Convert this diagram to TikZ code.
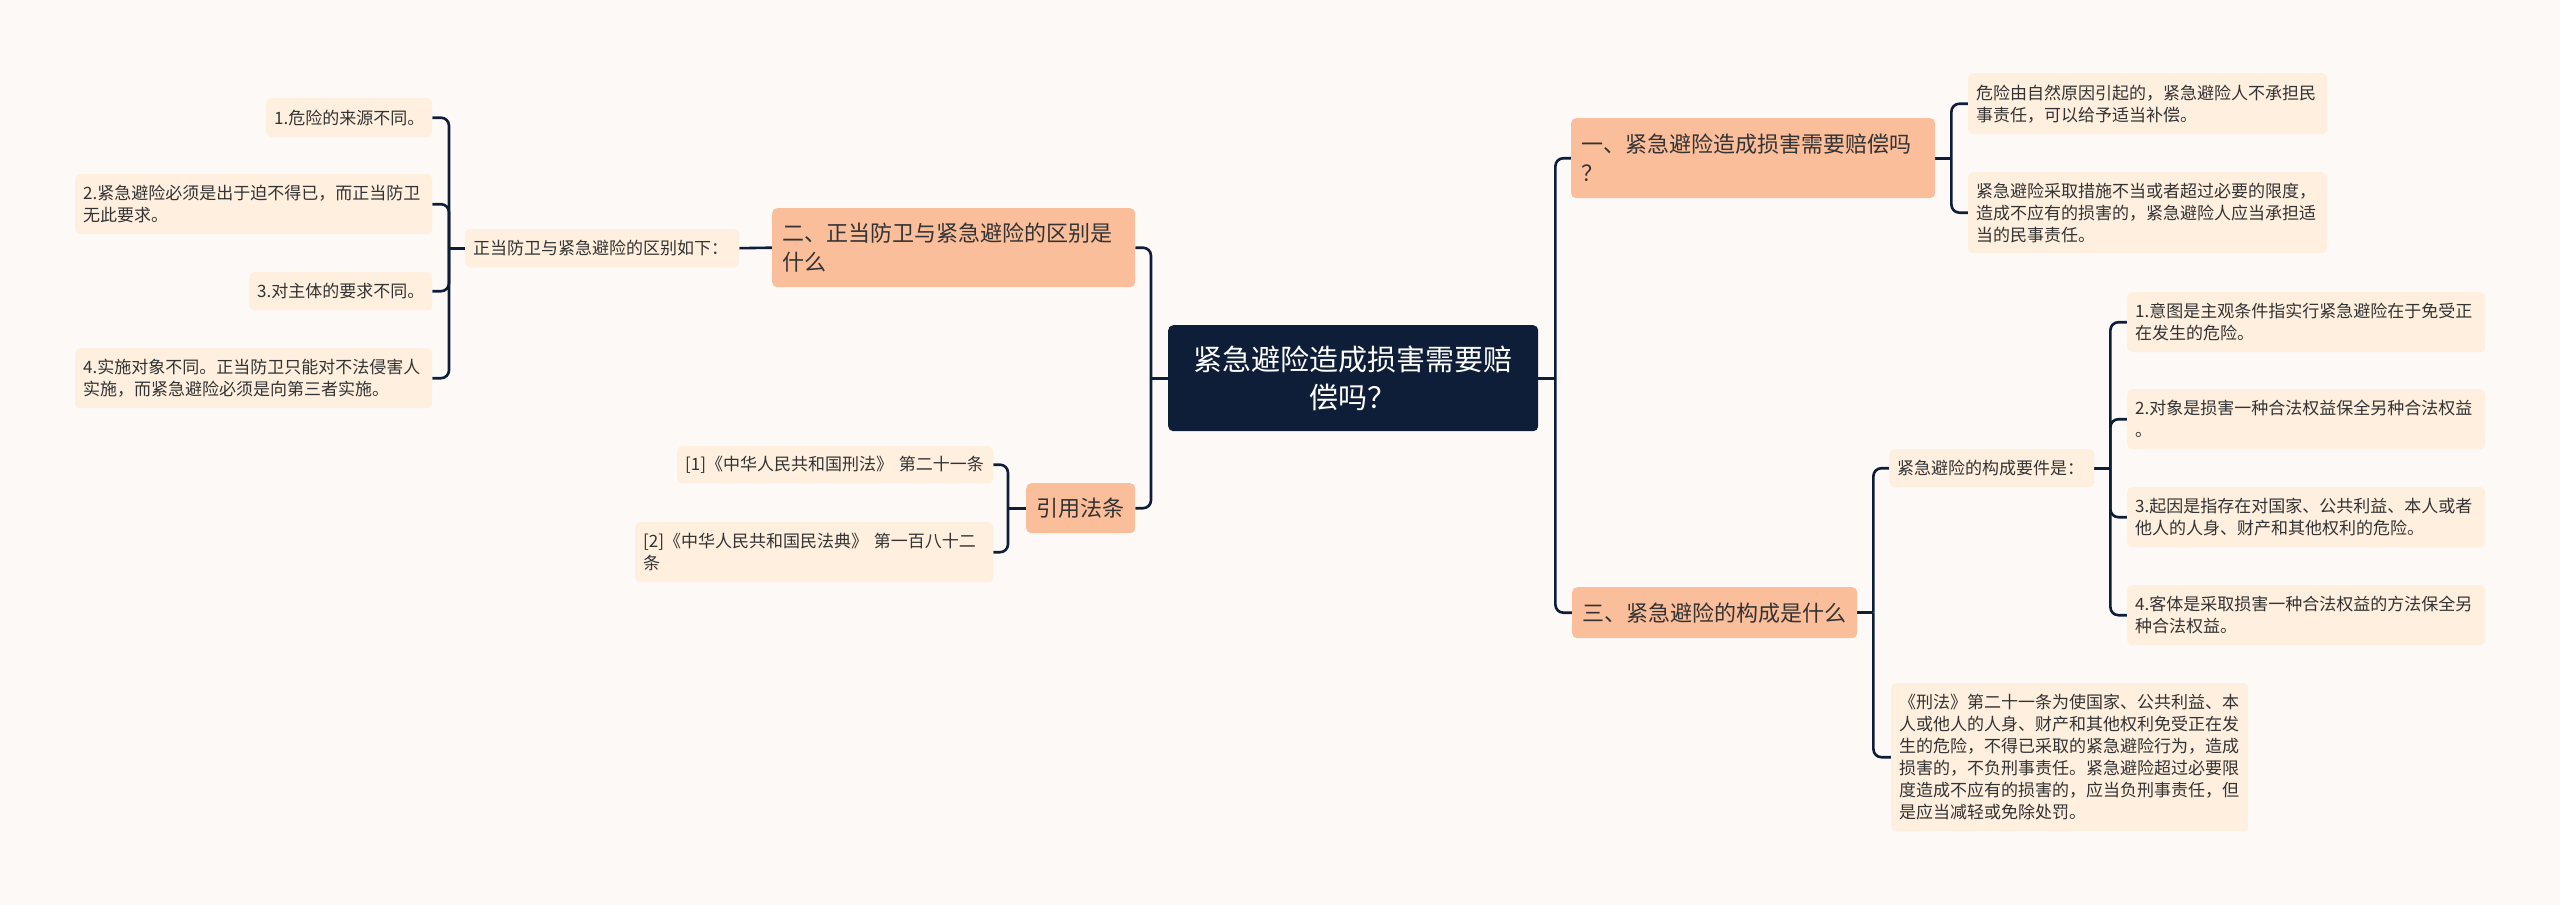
\documentclass[tikz,border=0pt]{standalone}
\usepackage{fontspec}
\setmainfont{Noto Sans CJK SC}
\usetikzlibrary{backgrounds}
\definecolor{navy}{HTML}{0E1E38}
\definecolor{salmon}{HTML}{FBBE9B}
\definecolor{cream}{HTML}{FEEFDF}
\definecolor{paper}{HTML}{FDF9F7}
\definecolor{ink}{HTML}{333333}
\begin{document}
\begin{tikzpicture}[x=1pt,y=-1pt,line cap=round,line join=round,
  box/.style={anchor=north west,rounded corners=5pt,inner ysep=3pt,align=left},
  rootbox/.style={box,fill=navy,text=white,align=center,inner xsep=20pt,font=\fontsize{29pt}{38pt}\selectfont},
  topicbox/.style={box,fill=salmon,text=ink,inner xsep=10pt,font=\fontsize{22pt}{29pt}\selectfont},
  leafbox/.style={box,fill=cream,text=ink,inner xsep=8pt,font=\fontsize{17pt}{22pt}\selectfont},
  branch/.style={draw=navy,line width=2.6pt,rounded corners=8pt}]
  \useasboundingbox (0,0) rectangle (2560,905);
  \begin{scope}[on background layer]
    \fill[paper] (0,0) rectangle (2560,905);
  \end{scope}

  \node[rootbox,text width=330pt,minimum height=106pt] (root) at (1168,325) {紧急避险造成损害需要赔\\偿吗？};

  \node[topicbox,text width=344pt,minimum height=80pt] (t1) at (1571,118) {一、紧急避险造成损害需要赔偿吗\\？};
  \node[topicbox,text width=343pt,minimum height=79pt] (t2) at (772,208) {二、正当防卫与紧急避险的区别是\\什么};
  \node[topicbox,text width=265pt,minimum height=51pt] (t3) at (1572,587) {三、紧急避险的构成是什么};
  \node[topicbox,text width=89pt,minimum height=50pt] (t4) at (1026,483) {引用法条};

  \node[leafbox,text width=343pt,minimum height=61pt] (a1) at (1968,73) {危险由自然原因引起的，紧急避险人不承担民\\事责任，可以给予适当补偿。};
  \node[leafbox,text width=343pt,minimum height=81pt] (a2) at (1968,172) {紧急避险采取措施不当或者超过必要的限度，\\造成不应有的损害的，紧急避险人应当承担适\\当的民事责任。};

  \node[leafbox,text width=258pt,minimum height=38pt] (s2) at (465,229) {正当防卫与紧急避险的区别如下：};
  \node[leafbox,text width=150pt,minimum height=39pt] (b1) at (266,98) {1.危险的来源不同。};
  \node[leafbox,text width=341pt,minimum height=60pt] (b2) at (75,174) {2.紧急避险必须是出于迫不得已，而正当防卫\\无此要求。};
  \node[leafbox,text width=167pt,minimum height=38pt] (b3) at (249,272) {3.对主体的要求不同。};
  \node[leafbox,text width=341pt,minimum height=60pt] (b4) at (75,348) {4.实施对象不同。正当防卫只能对不法侵害人\\实施，而紧急避险必须是向第三者实施。};

  \node[leafbox,text width=300pt,minimum height=37pt] (r1) at (677,446) {[1]《中华人民共和国刑法》 第二十一条};
  \node[leafbox,text width=342pt,minimum height=60pt] (r2) at (635,522) {[2]《中华人民共和国民法典》 第一百八十二\\条};

  \node[leafbox,text width=189pt,minimum height=38pt] (s3) at (1889,449) {紧急避险的构成要件是：};
  \node[leafbox,text width=342pt,minimum height=60pt] (c1) at (2127,292) {1.意图是主观条件指实行紧急避险在于免受正\\在发生的危险。};
  \node[leafbox,text width=342pt,minimum height=60pt] (c2) at (2127,389) {2.对象是损害一种合法权益保全另种合法权益\\。};
  \node[leafbox,text width=342pt,minimum height=60pt] (c3) at (2127,487) {3.起因是指存在对国家、公共利益、本人或者\\他人的人身、财产和其他权利的危险。};
  \node[leafbox,text width=342pt,minimum height=60pt] (c4) at (2127,585) {4.客体是采取损害一种合法权益的方法保全另\\种合法权益。};
  \node[leafbox,text width=341pt,minimum height=148pt] (c5) at (1891,683) {《刑法》第二十一条为使国家、公共利益、本\\人或他人的人身、财产和其他权利免受正在发\\生的危险，不得已采取的紧急避险行为，造成\\损害的，不负刑事责任。紧急避险超过必要限\\度造成不应有的损害的，应当负刑事责任，但\\是应当减轻或免除处罚。};

  \coordinate (rootE) at ([xshift=17pt]root.east);
  \coordinate (rootW) at ([xshift=-17pt]root.west);
  \coordinate (t1E) at ([xshift=16pt]t1.east);
  \coordinate (t3E) at ([xshift=16pt]t3.east);
  \coordinate (s3E) at ([xshift=16pt]s3.east);
  \coordinate (s2W) at ([xshift=-16pt]s2.west);
  \coordinate (t4W) at ([xshift=-18pt]t4.west);

  \begin{scope}[on background layer]
    \draw[branch] (root.east) -- (rootE);
    \draw[branch] (rootE) |- (t1.west);
    \draw[branch] (rootE) |- (t3.west);
    \draw[branch] (root.west) -- (rootW);
    \draw[branch] (rootW) |- (t2.east);
    \draw[branch] (rootW) |- (t4.east);

    \draw[branch] (t1.east) -- (t1E);
    \draw[branch] (t1E) |- (a1.west);
    \draw[branch] (t1E) |- (a2.west);

    \draw[branch] (t3.east) -- (t3E);
    \draw[branch] (t3E) |- (s3.west);
    \draw[branch] (t3E) |- (c5.west);

    \draw[branch] (s3.east) -- (s3E);
    \foreach \leaf in {c1,c2,c3,c4}
      \draw[branch] (s3E) |- (\leaf.west);

    \draw[branch] (t2.west) -- (s2.east);
    \draw[branch] (s2.west) -- (s2W);
    \foreach \leaf in {b1,b2,b3,b4}
      \draw[branch] (s2W) |- (\leaf.east);

    \draw[branch] (t4.west) -- (t4W);
    \draw[branch] (t4W) |- (r1.east);
    \draw[branch] (t4W) |- (r2.east);
  \end{scope}
\end{tikzpicture}
\end{document}
